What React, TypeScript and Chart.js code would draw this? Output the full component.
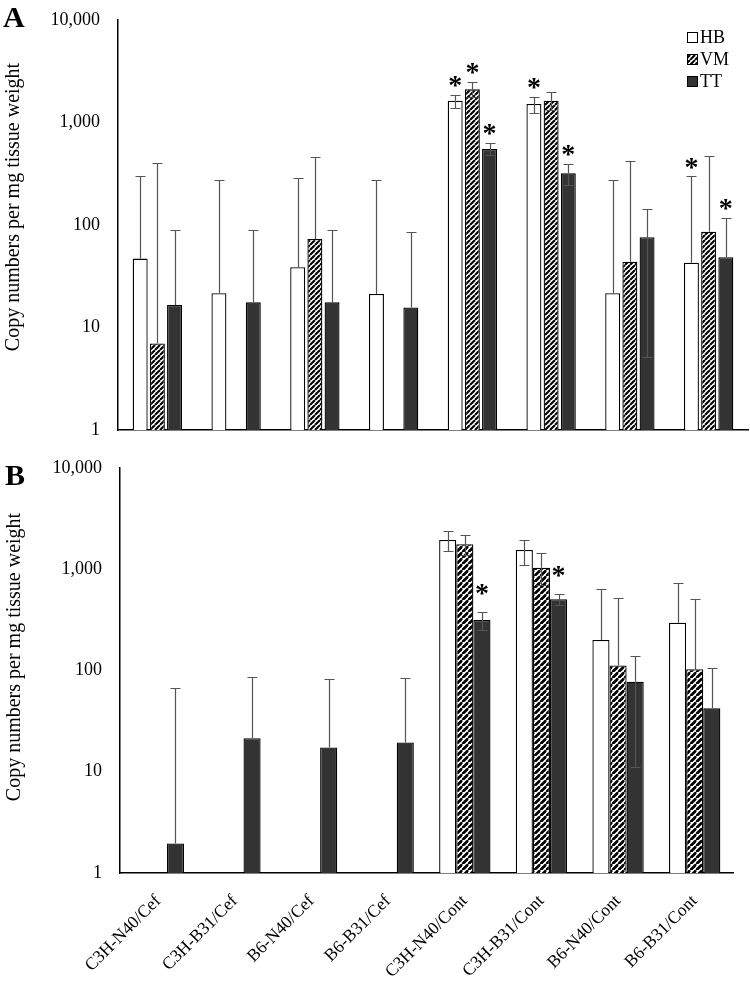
import React, { useEffect, useRef } from 'react';
import { Chart, registerables } from 'chart.js';
Chart.register(...registerables);

const categories = ['C3H-N40/Cef', 'C3H-B31/Cef', 'B6-N40/Cef', 'B6-B31/Cef', 'C3H-N40/Cont', 'C3H-B31/Cont', 'B6-N40/Cont', 'B6-B31/Cont'];
const seriesNames = ['HB', 'VM', 'TT'];
const yTicks = [1, 10, 100, 1000, 10000];
const yTitle = 'Copy numbers per mg tissue weight';

// Panel A values
const aHB = [47, 21.6, 38.7, 21.2, 1633, 1515, 21.6, 42.9];
const aVM = [7.0, null, 73, null, 2106, 1633, 43.9, 86];
const aTT = [16.6, 17.6, 17.6, 15.7, 551, 319, 76, 48.4];
const aHBHigh = [298, 272, 285, 272, 1855, 1762, 275, 298];
const aHBLow = [null, null, null, null, 1375, 1247, null, null];
const aVMHigh = [400, null, 458, null, 2500, 1995, 424, 471];
const aVMLow = [null, null, null, null, 1780, 1330, null, null];
const aTTHigh = [89, 89, 89, 86, 627, 391, 144, 118];
const aTTLow = [null, null, null, null, 482, 245, 5.2, null];
const aStarHB = [0, 0, 0, 0, 1, 1, 0, 1];
const aStarVM = [0, 0, 0, 0, 1, 0, 0, 0];
const aStarTT = [0, 0, 0, 0, 1, 1, 0, 1];

// Panel B values
const bHB = [null, null, null, null, 1945, 1549, 200, 297];
const bVM = [null, null, null, null, 1763, 1035, 112, 103];
const bTT = [1.96, 21.4, 17.4, 19.5, 315, 505, 77.5, 42.3];
const bHBHigh = [null, null, null, null, 2389, 1945, 638, 726];
const bHBLow = [null, null, null, null, 1525, 1094, null, null];
const bVMHigh = [null, null, null, null, 2180, 1437, 517, 505];
const bVMLow = [null, null, null, null, 1383, 700, null, null];
const bTTHigh = [66.7, 86, 82, 84, 381, 566, 140, 107];
const bTTLow = [null, null, null, null, 251, 444, 11.1, null];
const bStarHB = [0, 0, 0, 0, 0, 0, 0, 0];
const bStarVM = [0, 0, 0, 0, 0, 0, 0, 0];
const bStarTT = [0, 0, 0, 0, 1, 1, 0, 0];

const SERIF = '"Liberation Serif", "Times New Roman", serif';

function makeHatch(ctx: CanvasRenderingContext2D, size: number, lw: number) {
  const c = document.createElement('canvas');
  c.width = size;
  c.height = size;
  const g = c.getContext('2d')!;
  g.fillStyle = '#fff';
  g.fillRect(0, 0, size, size);
  g.strokeStyle = '#000';
  g.lineWidth = lw;
  g.beginPath();
  for (let k = -1; k <= 1; k++) {
    g.moveTo(k * size, size);
    g.lineTo(k * size + size, 0);
  }
  g.stroke();
  return ctx.createPattern(c, 'repeat')!;
}

type Cfg = {
  label: string;
  top: number;
  height: number;
  padding: { left: number; right: number; top: number; bottom: number };
  yWidth: number;
  xHeight: number;
  showX: boolean;
  data: (number | null)[][];
  high: (number | null)[][];
  low: (number | null)[][];
  stars: number[][];
  starOffset: number;
  hatchSize: number;
  catPct: number;
  barPct: number;
  legend: boolean;
  titleX: number;
  titleY: number;
  labelX: number;
  labelY: number;
};

function Panel({ cfg }: { cfg: Cfg }) {
  const ref = useRef<HTMLCanvasElement>(null);
  useEffect(() => {
    const canvas = ref.current!;
    const ctx0 = canvas.getContext('2d')!;
    const hatch = makeHatch(ctx0, cfg.hatchSize, cfg.hatchSize * 0.42);
    const fills: any[] = ['#ffffff', hatch, '#333333'];

    const extras = {
      id: 'extras',
      afterDatasetsDraw(chart: any) {
        const ctx = chart.ctx;
        const ys = chart.scales.y;
        ctx.save();
        ctx.strokeStyle = '#555555';
        ctx.lineWidth = 1.2;
        chart.data.datasets.forEach((ds: any, di: number) => {
          const meta = chart.getDatasetMeta(di);
          meta.data.forEach((bar: any, i: number) => {
            const v = ds.data[i];
            if (v == null) return;
            const x = Math.round(bar.x) + 0.5;
            const y0 = ys.getPixelForValue(v);
            const seg = (val: number) => {
              const y1 = Math.round(ys.getPixelForValue(val)) + 0.5;
              ctx.beginPath();
              ctx.moveTo(x, y0);
              ctx.lineTo(x, y1);
              ctx.moveTo(x - 5, y1);
              ctx.lineTo(x + 5, y1);
              ctx.stroke();
            };
            const hi = cfg.high[di][i];
            const lo = cfg.low[di][i];
            if (hi != null) seg(hi);
            if (lo != null) seg(lo);
          });
        });
        ctx.fillStyle = '#000';
        const sz = 28;
        ctx.font = `bold ${sz}px ${SERIF}`;
        ctx.textAlign = 'center';
        ctx.textBaseline = 'alphabetic';
        chart.data.datasets.forEach((ds: any, di: number) => {
          const meta = chart.getDatasetMeta(di);
          meta.data.forEach((bar: any, i: number) => {
            if (!cfg.stars[di][i]) return;
            const v = ds.data[i];
            const top = cfg.high[di][i] ?? v;
            const cy = ys.getPixelForValue(top) - cfg.starOffset;
            ctx.fillText('*', bar.x, cy + sz * 0.47);
          });
        });
        ctx.restore();
      },
      afterDraw(chart: any) {
        const ctx = chart.ctx;
        ctx.save();
        ctx.translate(cfg.titleX, cfg.titleY);
        ctx.rotate(-Math.PI / 2);
        ctx.fillStyle = '#000';
        ctx.font = `20px ${SERIF}`;
        ctx.textAlign = 'center';
        ctx.textBaseline = 'middle';
        ctx.fillText(yTitle, 0, 0);
        ctx.restore();
        ctx.save();
        ctx.fillStyle = '#000';
        ctx.font = `bold 30px ${SERIF}`;
        ctx.textAlign = 'left';
        ctx.textBaseline = 'alphabetic';
        ctx.fillText(cfg.label, cfg.labelX, cfg.labelY);
        ctx.restore();
        if (cfg.legend) {
          ctx.save();
          const lx = 687;
          const rows = [37, 59, 81];
          seriesNames.forEach((n, i) => {
            const cy = rows[i];
            ctx.fillStyle = fills[i];
            ctx.fillRect(lx, cy - 5, 10, 10);
            ctx.strokeStyle = '#000';
            ctx.lineWidth = 1;
            ctx.strokeRect(lx + 0.5, cy - 4.5, 10, 10);
            ctx.fillStyle = '#000';
            ctx.font = `18px ${SERIF}`;
            ctx.textAlign = 'left';
            ctx.textBaseline = 'middle';
            ctx.fillText(n, lx + 13, cy + 1);
          });
          ctx.restore();
        }
      },
    };

    const chart = new Chart(canvas, {
      type: 'bar',
      data: {
        labels: categories,
        datasets: seriesNames.map((n, i) => ({
          label: n,
          data: cfg.data[i] as any,
          backgroundColor: fills[i],
          borderColor: '#000',
          borderWidth: 1.3,
          categoryPercentage: cfg.catPct,
          barPercentage: cfg.barPct,
        })),
      },
      options: {
        responsive: false,
        animation: false,
        devicePixelRatio: 1,
        layout: { padding: cfg.padding },
        plugins: {
          legend: { display: false },
          tooltip: { enabled: false },
        },
        scales: {
          x: {
            grid: { display: false },
            border: { display: true, color: '#000', width: 1.5 },
            ticks: {
              display: cfg.showX,
              autoSkip: false,
              maxRotation: 45,
              minRotation: 45,
              padding: 10,
              color: '#000',
              font: { family: SERIF, size: 17.5 },
            },
            afterFit: (s: any) => {
              s.height = cfg.xHeight;
            },
          },
          y: {
            type: 'logarithmic',
            min: 1,
            max: 10000,
            grid: {
              display: true,
              drawOnChartArea: false,
              drawTicks: true,
              tickLength: 18,
              tickColor: 'rgba(0,0,0,0)',
            },
            border: { display: true, color: '#000', width: 1.5 },
            afterBuildTicks: (s: any) => {
              s.ticks = yTicks.map((v) => ({ value: v }));
            },
            ticks: {
              padding: 0,
              color: '#000',
              font: { family: SERIF, size: 18, lineHeight: 1 },
              callback: (v: any) => Number(v).toLocaleString('en-US'),
            },
            afterFit: (s: any) => {
              s.width = cfg.yWidth;
            },
          },
        },
      },
      plugins: [extras],
    });
    return () => chart.destroy();
  }, []);
  return (
    <canvas
      ref={ref}
      width={750}
      height={cfg.height}
      style={{ position: 'absolute', left: 0, top: cfg.top, width: 750, height: cfg.height }}
    />
  );
}

const cfgA: Cfg = {
  label: 'A',
  top: 0,
  height: 440,
  padding: { left: 0, right: 2, top: 20, bottom: 10 },
  yWidth: 118,
  xHeight: 0,
  showX: false,
  data: [aHB, aVM, aTT],
  high: [aHBHigh, aVMHigh, aTTHigh],
  low: [aHBLow, aVMLow, aTTLow],
  stars: [aStarHB, aStarVM, aStarTT],
  starOffset: 14,
  hatchSize: 5,
  catPct: 0.655,
  barPct: 0.87,
  legend: true,
  titleX: 14,
  titleY: 207,
  labelX: 3,
  labelY: 27,
};

const cfgB: Cfg = {
  label: 'B',
  top: 450,
  height: 531,
  padding: { left: 0, right: 17, top: 18, bottom: 0 },
  yWidth: 120,
  xHeight: 108,
  showX: true,
  data: [bHB, bVM, bTT],
  high: [bHBHigh, bVMHigh, bTTHigh],
  low: [bHBLow, bVMLow, bTTLow],
  stars: [bStarHB, bStarVM, bStarTT],
  starOffset: 23,
  hatchSize: 6.5,
  catPct: 0.67,
  barPct: 1.0,
  legend: false,
  titleX: 15,
  titleY: 207,
  labelX: 5,
  labelY: 35,
};

export default function App() {
  return (
    <div style={{ position: 'absolute', left: 0, top: 0, width: 750, height: 981, background: '#fff' }}>
      <Panel cfg={cfgA} />
      <Panel cfg={cfgB} />
    </div>
  );
}
